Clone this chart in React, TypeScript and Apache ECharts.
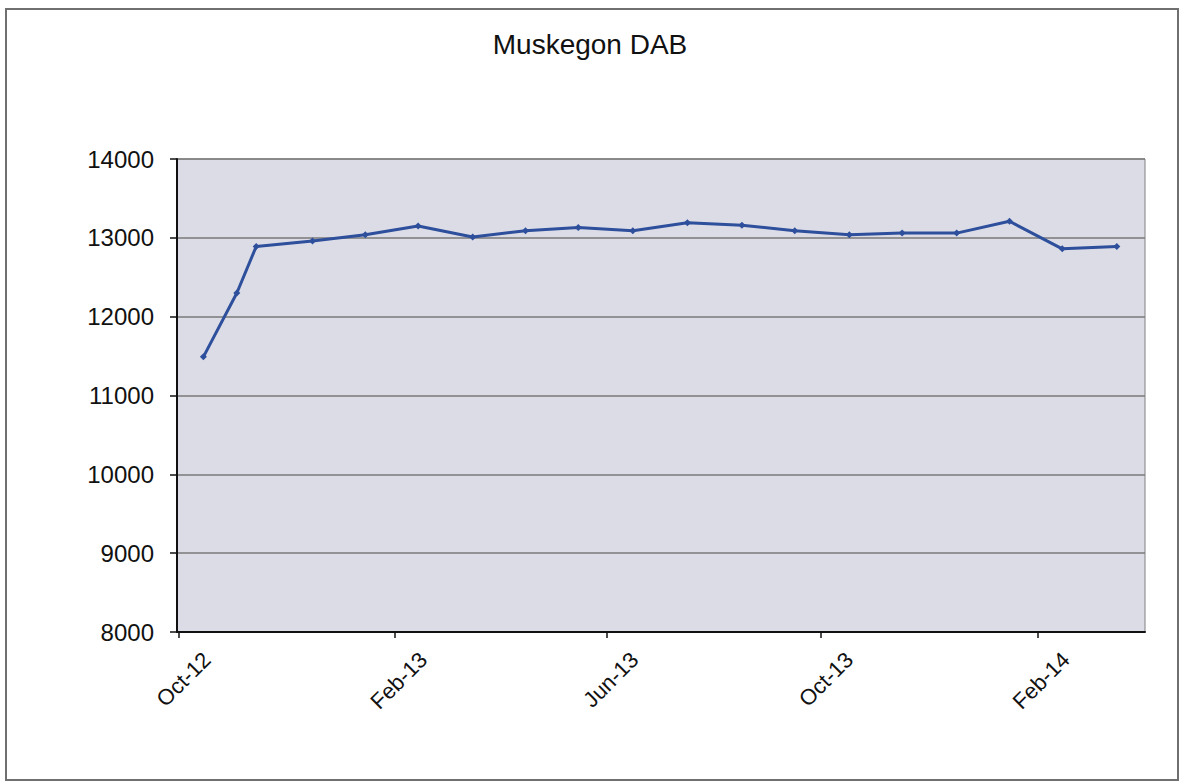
import React, { useEffect, useRef } from "react";
import * as echarts from "echarts";

const titleText = "Muskegon DAB";

const pointDates = [
  "2012-10-15", "2012-11-03", "2012-11-14", "2012-12-16", "2013-01-15",
  "2013-02-14", "2013-03-17", "2013-04-16", "2013-05-16", "2013-06-16",
  "2013-07-17", "2013-08-17", "2013-09-16", "2013-10-17", "2013-11-16",
  "2013-12-17", "2014-01-16", "2014-02-15", "2014-03-18",
];

const dabValues = [
  11490, 12300, 12890, 12960, 13040,
  13150, 13010, 13090, 13130, 13090,
  13190, 13160, 13090, 13040, 13060,
  13060, 13210, 12860, 12890,
];

const tickDates = ["2012-10-01", "2013-02-01", "2013-06-01", "2013-10-01", "2014-02-01"];
const tickLabels = ["Oct-12", "Feb-13", "Jun-13", "Oct-13", "Feb-14"];

const axisMinDate = "2012-09-30";
const axisMaxDate = "2014-04-03";

const yMin = 8000;
const yMax = 14000;
const yStep = 1000;

// rotated labels sit a little to the right of their tick, as in the original
const LABEL_SHIFT_MS = 16 * 24 * 3600 * 1000;

export default function App() {
  const ref = useRef<HTMLDivElement>(null);

  useEffect(() => {
    document.body.style.margin = "0";
    if (!ref.current) return;
    const chart = echarts.init(ref.current, null, { renderer: "svg" });
    const tickTs = tickDates.map((d) => Date.parse(d));
    const labelTs = tickTs.map((t) => t + LABEL_SHIFT_MS);
    const font = "Arial, 'Liberation Sans', sans-serif";

    chart.setOption({
      animation: false,
      backgroundColor: "#ffffff",
      title: {
        text: titleText,
        left: "center",
        top: 25,
        textStyle: { fontFamily: font, fontSize: 28, fontWeight: "normal", color: "#111" },
      },
      graphic: [
        {
          type: "rect",
          shape: { x: 6, y: 9, width: 1172, height: 771 },
          style: { fill: "none", stroke: "#707070", lineWidth: 2 },
          silent: true,
        },
      ],
      grid: {
        left: 177,
        top: 159,
        width: 968,
        height: 473,
        show: true,
        backgroundColor: "#dcdce6",
        borderColor: "#808080",
        borderWidth: 1,
      },
      xAxis: {
        type: "value",
        min: Date.parse(axisMinDate),
        max: Date.parse(axisMaxDate),
        axisLine: { show: true, onZero: false, lineStyle: { color: "#111", width: 2 } },
        axisTick: {
          show: true,
          customValues: tickTs,
          length: 6,
          lineStyle: { color: "#111", width: 1.5 },
        },
        axisLabel: {
          customValues: labelTs,
          rotate: 45,
          margin: 24,
          fontFamily: font,
          fontSize: 22,
          color: "#111",
          formatter: (v: number) => {
            const i = labelTs.indexOf(v);
            return i >= 0 ? tickLabels[i] : "";
          },
        },
        splitLine: { show: false },
      },
      yAxis: {
        type: "value",
        min: yMin,
        max: yMax,
        interval: yStep,
        axisLine: { show: true, lineStyle: { color: "#111", width: 2 } },
        axisTick: { show: true, length: 7, lineStyle: { color: "#111", width: 1.5 } },
        axisLabel: {
          margin: 23,
          fontFamily: font,
          fontSize: 24,
          color: "#111",
          formatter: (v: number) => String(v),
        },
        splitLine: { show: true, lineStyle: { color: "#7a7a7a", width: 1.5 } },
      },
      series: [
        {
          type: "line",
          data: pointDates.map((d, i) => [Date.parse(d), dabValues[i]]),
          lineStyle: { color: "#2d4f9c", width: 3 },
          itemStyle: { color: "#2d4f9c" },
          symbol: "diamond",
          symbolSize: 7,
          showSymbol: true,
        },
      ],
    });

    return () => chart.dispose();
  }, []);

  return <div ref={ref} style={{ width: 1180, height: 783 }} />;
}
